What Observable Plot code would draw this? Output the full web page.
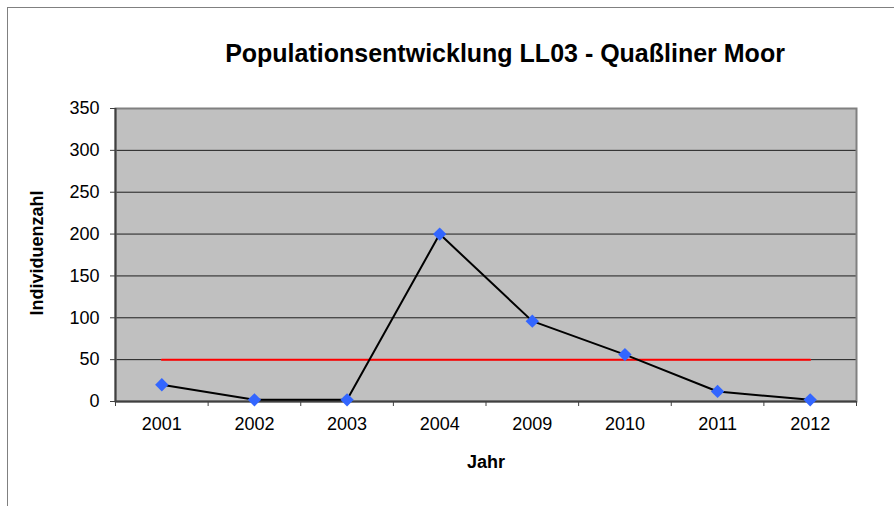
<!DOCTYPE html>
<html>
<head>
<meta charset="utf-8">
<script src="https://cdn.jsdelivr.net/npm/d3@7"></script>
<script src="https://cdn.jsdelivr.net/npm/@observablehq/plot@0.6"></script>
<style>
  html, body { margin: 0; padding: 0; background: #fff; }
  #wrap { position: relative; width: 894px; height: 506px; overflow: hidden; }
  #border { position: absolute; left: 7px; top: 7px; width: 2000px; height: 2000px;
            border-left: 1px solid #808080; border-top: 1px solid #808080; box-sizing: border-box; }
  #chart { position: absolute; left: 0; top: 0; }
</style>
</head>
<body>
<div id="wrap"><div id="border"></div><div id="chart"></div></div>
<script>
const title = "Populationsentwicklung LL03 - Quaßliner Moor";
const yLabel = "Individuenzahl";
const xLabel = "Jahr";
const years = ["2001", "2002", "2003", "2004", "2009", "2010", "2011", "2012"];
const counts = [20, 2, 2, 200, 96, 56, 12, 2];
const threshold = 50;
const yTicks = [0, 50, 100, 150, 200, 250, 300, 350];

const rows = years.map((year, k) => ({ i: k + 0.5, year, count: counts[k], threshold }));
const font = "'Liberation Sans', Arial, sans-serif";

const chart = Plot.plot({
  width: 894,
  height: 506,
  marginLeft: 115,
  marginRight: 38,
  marginTop: 108,
  marginBottom: 105,
  style: { fontFamily: font, color: "#000", background: "transparent" },
  x: { type: "linear", domain: [0, years.length] },
  y: { domain: [0, 350] },
  marks: [
    Plot.frame({ fill: "#c0c0c0" }),
    Plot.gridY(yTicks, { stroke: "#000", strokeOpacity: 0.85, strokeWidth: 1 }),
    Plot.frame({ stroke: "#808080", strokeWidth: 2 }),
    Plot.ruleX([0], { stroke: "#404040", strokeWidth: 2 }),
    Plot.ruleY([0], { stroke: "#404040", strokeWidth: 2 }),
    Plot.axisY({ ticks: yTicks, tickSize: 5, tickPadding: 11, fontSize: 18, label: null, stroke: "#404040" }),
    Plot.axisX({ ticks: d3.range(years.length + 1), tickSize: 5, tickFormat: () => "", label: null, stroke: "#404040" }),
    Plot.axisX({ ticks: rows.map(d => d.i), tickSize: 0, tickPadding: 16, fontSize: 18, label: null,
                 tickFormat: v => years[Math.floor(v)] }),
    Plot.line(rows, { x: "i", y: "threshold", stroke: "#ff0000", strokeWidth: 2 }),
    Plot.line(rows, { x: "i", y: "count", stroke: "#000", strokeWidth: 2 }),
    Plot.dot(rows, { x: "i", y: "count", symbol: "diamond2", r: 6, fill: "#3366ff", stroke: "none" }),
    Plot.text([title], { frameAnchor: "top", dx: 19, dy: -55, fontSize: 25, fontWeight: "bold", lineAnchor: "middle" }),
    Plot.text([yLabel], { frameAnchor: "left", dx: -78, dy: -2, rotate: -90, textAnchor: "middle", fontSize: 18, fontWeight: "bold", lineAnchor: "middle" }),
    Plot.text([xLabel], { frameAnchor: "bottom", dy: 61, fontSize: 18, fontWeight: "bold", lineAnchor: "middle" })
  ]
});
document.getElementById("chart").appendChild(chart);
</script>
</body>
</html>
